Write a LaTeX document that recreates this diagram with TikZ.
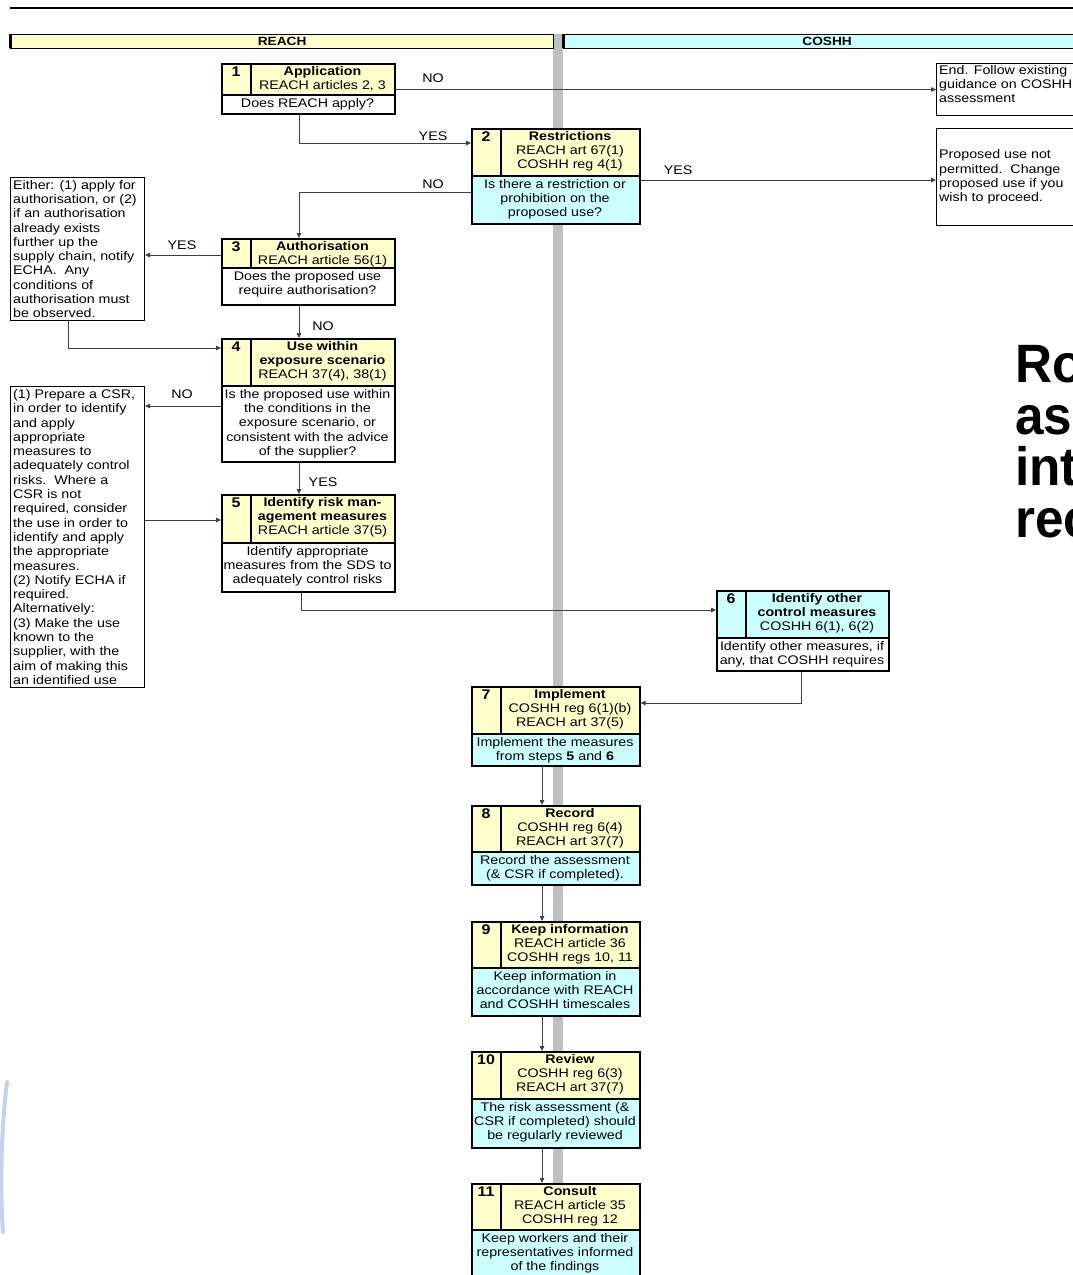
\documentclass[tikz,border=0pt]{standalone}
\usepackage{fontspec}
\setmainfont{Liberation Sans}[FakeStretch=1.14]
\newfontfamily\bigfont{Liberation Sans}[FakeStretch=0.95]
\usetikzlibrary{arrows.meta,calc}
\definecolor{ylw}{HTML}{FFFFCC}
\definecolor{cyn}{HTML}{CCFFFF}
\definecolor{barg}{HTML}{C0C0C0}
\definecolor{faintblue}{HTML}{A9C1E6}
\newcommand\txtsz{\fontsize{12.5}{14.3}\selectfont}
\newcommand\numsz{\fontsize{14}{16}\selectfont\bfseries}
\newcommand\hdrsz{\fontsize{12}{13}\selectfont\bfseries}
\newcommand{\stepbox}[9]{%
  \fill[#7] (#2,#3) rectangle (#4,#5);
  \fill[#8] (#2,#5) rectangle (#4,#6);
  \draw[cellline] (#2,#5) -- (#4,#5);
  \draw[cellline] (#2+30,#3) -- (#2+30,#5);
  \pgfmathsetmacro\sbw{#4-#2}%
  \pgfmathsetmacro\sbh{#6-#3}%
  \node[frame, minimum width=\sbw pt, minimum height=\sbh pt, anchor=north west] (#1) at (#2,#3) {};
  \node[numtxt, anchor=north] (#1n) at (#2+15,#3+4) {#9};
  \coordinate (#1tt) at ({(#2+30+#4)/2},#3+3);
  \coordinate (#1qq) at ({(#2+#4)/2},#5+3);
}
\tikzset{
  frame/.style={draw=black, line width=1.6pt, inner sep=0pt},
  cellline/.style={line width=1.6pt},
  numtxt/.style={font=\numsz, inner sep=0pt},
  titletxt/.style={font=\txtsz, align=center, inner sep=0pt, anchor=north},
  qtxt/.style={font=\txtsz, align=center, inner sep=0pt, anchor=north},
  sidebox/.style={draw=black, line width=1pt, inner sep=0pt, fill=white, anchor=north west},
  sidetxt/.style={font=\txtsz, align=left, inner sep=0pt},
  lbl/.style={font=\txtsz, inner sep=0pt},
  hdr/.style={draw=black, line width=1.2pt, inner sep=0pt, font=\hdrsz, anchor=north west, minimum height=14pt},
  conn/.style={draw=black!75, line width=0.8pt, -{Triangle[length=5pt,width=4.5pt]}},
  bigtxt/.style={font=\bigfont\bfseries\fontsize{54}{60}\selectfont, inner sep=0pt, anchor=base west}
}
\begin{document}
\begin{tikzpicture}[x=1pt,y=-1pt]
\useasboundingbox (0,0) rectangle (1073,1275);
\clip (0,0) rectangle (1073,1275);
\fill[white] (0,0) rectangle (1073,1275);
% top rule
\draw[line width=1.5pt] (10,8) -- (1080,8);
% grey divider
\fill[barg] (553,34) rectangle (563,1280);
% headers
\node[hdr, fill=ylw, minimum width=543pt] (hreach) at (10,34) {REACH};
\node[hdr, fill=cyn, minimum width=527pt] (hcoshh) at (563,34) {COSHH};
\draw[line width=2.5pt] (10.6,34) -- (10.6,48);
\draw[line width=2.5pt] (563.6,34) -- (563.6,48);
% faint blue stroke at the left edge
\draw[faintblue, line width=4pt, line cap=round, opacity=0.7] (7,1082) .. controls (1,1130) and (0,1190) .. (3,1232);

% step boxes
\stepbox{s1}{221}{63}{394}{95}{113}{ylw}{white}{1}
\node[titletxt] (s1t) at (s1tt) {\textbf{Application}\\REACH articles 2, 3};
\node[qtxt] (s1q) at (s1qq) {Does REACH apply?};

\stepbox{s2}{471}{128}{639}{176}{223}{ylw}{cyn}{2}
\node[titletxt] (s2t) at (s2tt) {\textbf{Restrictions}\\REACH art 67(1)\\COSHH reg 4(1)};
\node[qtxt] (s2q) at (s2qq) {Is there a restriction or\\prohibition on the\\proposed use?};

\stepbox{s3}{221}{238}{394}{268}{304}{ylw}{white}{3}
\node[titletxt] (s3t) at (s3tt) {\textbf{Authorisation}\\REACH article 56(1)};
\node[qtxt] (s3q) at (s3qq) {Does the proposed use\\require authorisation?};

\stepbox{s4}{221}{338}{394}{386}{461}{ylw}{white}{4}
\node[titletxt] (s4t) at (s4tt) {\textbf{Use within}\\\textbf{exposure scenario}\\REACH 37(4), 38(1)};
\node[qtxt] (s4q) at (s4qq) {Is the proposed use within\\the conditions in the\\exposure scenario, or\\consistent with the advice\\of the supplier?};

\stepbox{s5}{221}{494}{394}{543}{591}{ylw}{white}{5}
\node[titletxt] (s5t) at (s5tt) {\textbf{Identify risk man-}\\\textbf{agement measures}\\REACH article 37(5)};
\node[qtxt] (s5q) at (s5qq) {Identify appropriate\\measures from the SDS to\\adequately control risks};

\stepbox{s6}{716}{590}{888}{638}{670}{cyn}{white}{6}
\node[titletxt] (s6t) at (s6tt) {\textbf{Identify other}\\\textbf{control measures}\\COSHH 6(1), 6(2)};
\node[qtxt] (s6q) at (s6qq) {Identify other measures, if\\any, that COSHH requires};

\stepbox{s7}{471}{686}{639}{734}{765}{ylw}{cyn}{7}
\node[titletxt] (s7t) at (s7tt) {\textbf{Implement}\\COSHH reg 6(1)(b)\\REACH art 37(5)};
\node[qtxt] (s7q) at (s7qq) {Implement the measures\\from steps \textbf{5} and \textbf{6}};

\stepbox{s8}{471}{805}{639}{852}{884}{ylw}{cyn}{8}
\node[titletxt] (s8t) at (s8tt) {\textbf{Record}\\COSHH reg 6(4)\\REACH art 37(7)};
\node[qtxt] (s8q) at (s8qq) {Record the assessment\\(\& CSR if completed).};

\stepbox{s9}{471}{921}{639}{968}{1015}{ylw}{cyn}{9}
\node[titletxt] (s9t) at (s9tt) {\textbf{Keep information}\\REACH article 36\\COSHH regs 10, 11};
\node[qtxt] (s9q) at (s9qq) {Keep information in\\accordance with REACH\\and COSHH timescales};

\stepbox{s10}{471}{1051}{639}{1099}{1147}{ylw}{cyn}{10}
\node[titletxt] (s10t) at (s10tt) {\textbf{Review}\\COSHH reg 6(3)\\REACH art 37(7)};
\node[qtxt] (s10q) at (s10qq) {The risk assessment (\&\\CSR if completed) should\\be regularly reviewed};

\stepbox{s11}{471}{1183}{639}{1230}{1290}{ylw}{cyn}{11}
\node[titletxt] (s11t) at (s11tt) {\textbf{Consult}\\REACH article 35\\COSHH reg 12};
\node[qtxt] (s11q) at (s11qq) {Keep workers and their\\representatives informed\\of the findings};

% side boxes
\node[sidebox, minimum width=140pt, minimum height=52pt] (endb) at (936,63) {};
\node[sidetxt, anchor=north west] (endt) at (939,65) {End. Follow existing\\guidance on COSHH\\assessment};
\node[sidebox, minimum width=140pt, minimum height=97pt] (prop) at (936,128) {};
\node[sidetxt, anchor=west] (propt) at ($(prop.west)+(3,0)$) {Proposed use not\\permitted.\ \ Change\\proposed use if you\\wish to proceed.};
\node[sidebox, minimum width=134pt, minimum height=143pt] (boxA) at (10,177) {};
\node[sidetxt, anchor=west] (boxAt) at ($(boxA.west)+(3,0)$) {Either: (1) apply for\\authorisation, or (2)\\if an authorisation\\already exists\\further up the\\supply chain, notify\\ECHA.\ \ Any\\conditions of\\authorisation must\\be observed.};
\node[sidebox, minimum width=134pt, minimum height=301pt] (boxB) at (10,386) {};
\node[sidetxt, anchor=west] (boxBt) at ($(boxB.west)+(3,0)$) {(1) Prepare a CSR,\\in order to identify\\and apply\\appropriate\\measures to\\adequately control\\risks.\ \ Where a\\CSR is not\\required, consider\\the use in order to\\identify and apply\\the appropriate\\measures.\\(2) Notify ECHA if\\required.\\Alternatively:\\(3) Make the use\\known to the\\supplier, with the\\aim of making this\\an identified use};

% big partly hidden title
\node[bigtxt] (big1) at (1015,382) {Ro};
\node[bigtxt] (big2) at (1015,434) {as};
\node[bigtxt] (big3) at (1015,485) {int};
\node[bigtxt] (big4) at (1015,537) {rec};

% connectors
\draw[conn] (s1.east |- endb.west) -- (endb.west);
\draw[conn] ($(s1.south west)+(78,0)$) |- ($(s2.north west)+(0,15)$);
\draw[conn] ($(s2.north east)+(0,52)$) -- ($(prop.north west)+(0,52)$);
\draw[conn] ($(s2.north west)+(0,64)$) -| ($(s3.north west)+(78,0)$);
\draw[conn] ($(s3.north west)+(0,17)$) -- ($(boxA.north east)+(0,78)$);
\draw[conn] ($(boxA.south west)+(58,0)$) |- ($(s4.north west)+(0,10)$);
\draw[conn] ($(s3.south west)+(78,0)$) -- ($(s4.north west)+(78,0)$);
\draw[conn] ($(s4.north west)+(0,68)$) -- ($(boxB.north east)+(0,20)$);
\draw[conn] ($(boxB.north east)+(0,134)$) -- ($(s5.north west)+(0,26)$);
\draw[conn] ($(s4.south west)+(78,0)$) -- ($(s5.north west)+(78,0)$);
\draw[conn] ($(s5.south west)+(80,0)$) |- ($(s6.north west)+(0,20)$);
\draw[conn] ($(s6.south west)+(85,0)$) |- ($(s7.north east)+(0,17)$);
\draw[conn] ($(s7.south west)+(71,0)$) -- ($(s8.north west)+(71,0)$);
\draw[conn] ($(s8.south west)+(71,0)$) -- ($(s9.north west)+(71,0)$);
\draw[conn] ($(s9.south west)+(71,0)$) -- ($(s10.north west)+(71,0)$);
\draw[conn] ($(s10.south west)+(71,0)$) -- ($(s11.north west)+(71,0)$);

% connector labels
\node[lbl] (l1) at (433,78) {NO};
\node[lbl] (l2) at (433,136) {YES};
\node[lbl] (l3) at (678,170) {YES};
\node[lbl] (l4) at (433,184) {NO};
\node[lbl] (l5) at (182,245) {YES};
\node[lbl] (l6) at (323,326) {NO};
\node[lbl] (l7) at (182,394) {NO};
\node[lbl] (l8) at (323,482) {YES};
\end{tikzpicture}
\end{document}
